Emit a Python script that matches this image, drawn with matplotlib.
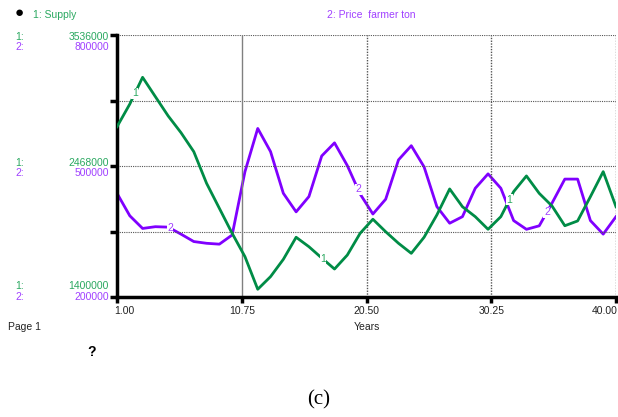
import numpy as np
import matplotlib
matplotlib.use("Agg")
import matplotlib.pyplot as plt

plt.rcParams['font.family'] = ['Liberation Sans', 'DejaVu Sans']

# ---------------- data ----------------
years = np.arange(1, 41)
supply = [2788000, 2973000, 3191000, 3033000, 2876000, 2740000, 2585000, 2327000,
          2123000, 1919000, 1729000, 1463000, 1566000, 1707000, 1887000, 1810000,
          1718000, 1628000, 1742000, 1919000, 2034000, 1932000, 1838000, 1756000,
          1887000, 2069000, 2281000, 2136000, 2055000, 1952000, 2055000, 2259000,
          2387000, 2245000, 2142000, 1981000, 2020000, 2218000, 2422000, 2136000]
price = [437500, 386000, 357000, 361000, 360000, 344000, 327000, 323000,
         321000, 342000, 487000, 586000, 533000, 437500, 395000, 430000,
         523000, 553000, 501000, 436000, 390000, 424000, 514000, 546500,
         498000, 407000, 369000, 384000, 449000, 482000, 449000, 375000,
         355000, 363000, 415000, 470000, 470000, 375000, 344000, 384000]

supply_ticks = [1400000, 2468000, 3536000]
price_ticks = [200000, 500000, 800000]
x_ticks = [1.00, 10.75, 20.50, 30.25, 40.00]

green_line = '#008c46'
purple_line = '#8000ff'
green_txt = '#2aa860'
purple_txt = '#a040ff'

FS = 7.5

# ---------------- figure ----------------
W, H = 618, 417
fig = plt.figure(figsize=(W / 100, H / 100), dpi=100)
ax = fig.add_axes([117 / W, 1 - 297 / H, 499 / W, 262 / H])
ax2 = ax.twinx()

ax.set_xlim(1, 40)
ax.set_ylim(supply_ticks[0], supply_ticks[-1])
ax2.set_ylim(price_ticks[0], price_ticks[-1])

# grid
for yy in np.linspace(supply_ticks[0], supply_ticks[-1], 5)[1:]:
    ax.axhline(yy, color='#555555', lw=0.8, ls=(0, (1, 1)), zorder=1)
for i, xx in enumerate(x_ticks[1:]):
    ax.axvline(xx, color='#808080' if i == 0 else '#555555', lw=1.0,
               ls='-' if i == 0 else (0, (1, 1)), zorder=1)

ax.plot(years, supply, color=green_line, lw=2, zorder=3)
ax2.plot(years, price, color=purple_line, lw=2, zorder=3)

# curve labels
for t in [2.4, 17.1, 31.67]:
    ax.text(t, np.interp(t, years, supply), '1', color=green_txt, fontsize=FS,
            ha='center', va='center', zorder=5,
            bbox=dict(boxstyle='square,pad=0.05', fc='white', ec='none'))
for t in [5.14, 19.84, 34.6]:
    ax2.text(t, np.interp(t, years, price), '2', color=purple_txt, fontsize=FS,
             ha='center', va='center', zorder=5,
             bbox=dict(boxstyle='square,pad=0.05', fc='white', ec='none'))

# spines and ticks
for s in ['top', 'right']:
    ax.spines[s].set_visible(False)
for s in ax2.spines.values():
    s.set_visible(False)
ax.spines['left'].set_linewidth(2.5)
ax.spines['bottom'].set_linewidth(2.5)
ax.set_yticks(np.linspace(supply_ticks[0], supply_ticks[-1], 5))
ax.set_xticks(x_ticks)
ax.tick_params(axis='y', length=5, width=2.5, labelleft=False)
ax.tick_params(axis='x', length=4, width=2.5, labelbottom=False)
ax2.set_yticks([])
ax.set_zorder(ax2.get_zorder() + 1)
ax.patch.set_visible(False)

# y labels (two rows per tick), pixel rows from the picture
label_rows = [(286, 297), (163, 173), (37, 47)]
for s_val, p_val, (r1, r2) in zip(supply_ticks, price_ticks, label_rows):
    fig.text(15 / W, 1 - r1 / H, '1:', color=green_txt, fontsize=FS, va='center')
    fig.text(109 / W, 1 - r1 / H, f'{s_val}', color=green_txt, fontsize=FS, va='center', ha='right')
    fig.text(15 / W, 1 - r2 / H, '2:', color=purple_txt, fontsize=FS, va='center')
    fig.text(109 / W, 1 - r2 / H, f'{p_val}', color=purple_txt, fontsize=FS, va='center', ha='right')

# x labels
for xv in x_ticks:
    xp = 117 + (xv - 1) / 39 * 499
    ha = 'center'
    if xv == x_ticks[0]:
        xp, ha = 114, 'left'
    elif xv == x_ticks[-1]:
        xp, ha = 618, 'right'
    fig.text(xp / W, 1 - 311 / H, f'{xv:.2f}', fontsize=FS, ha=ha, va='center', color='#222222')

fig.text(367 / W, 1 - 327 / H, 'Years', fontsize=FS, ha='center', va='center', color='#222222')
fig.text(8 / W, 1 - 327 / H, 'Page 1', fontsize=FS, ha='left', va='center', color='#222222')
fig.text(92 / W, 1 - 352 / H, '?', fontsize=10, fontweight='bold', ha='center', va='center')
fig.text(319 / W, 1 - 400 / H, '(c)', fontsize=15, family='Liberation Serif',
         ha='center', va='center')

# header
fig.text(19 / W, 1 - 13 / H, '\u25cf', fontsize=11, ha='center', va='center')
fig.text(33 / W, 1 - 15 / H, '1: Supply', color=green_txt, fontsize=FS, va='center')
fig.text(327 / W, 1 - 15 / H, '2: Price  farmer ton', color=purple_txt, fontsize=FS, va='center')

fig.savefig('out.png', dpi=100)
